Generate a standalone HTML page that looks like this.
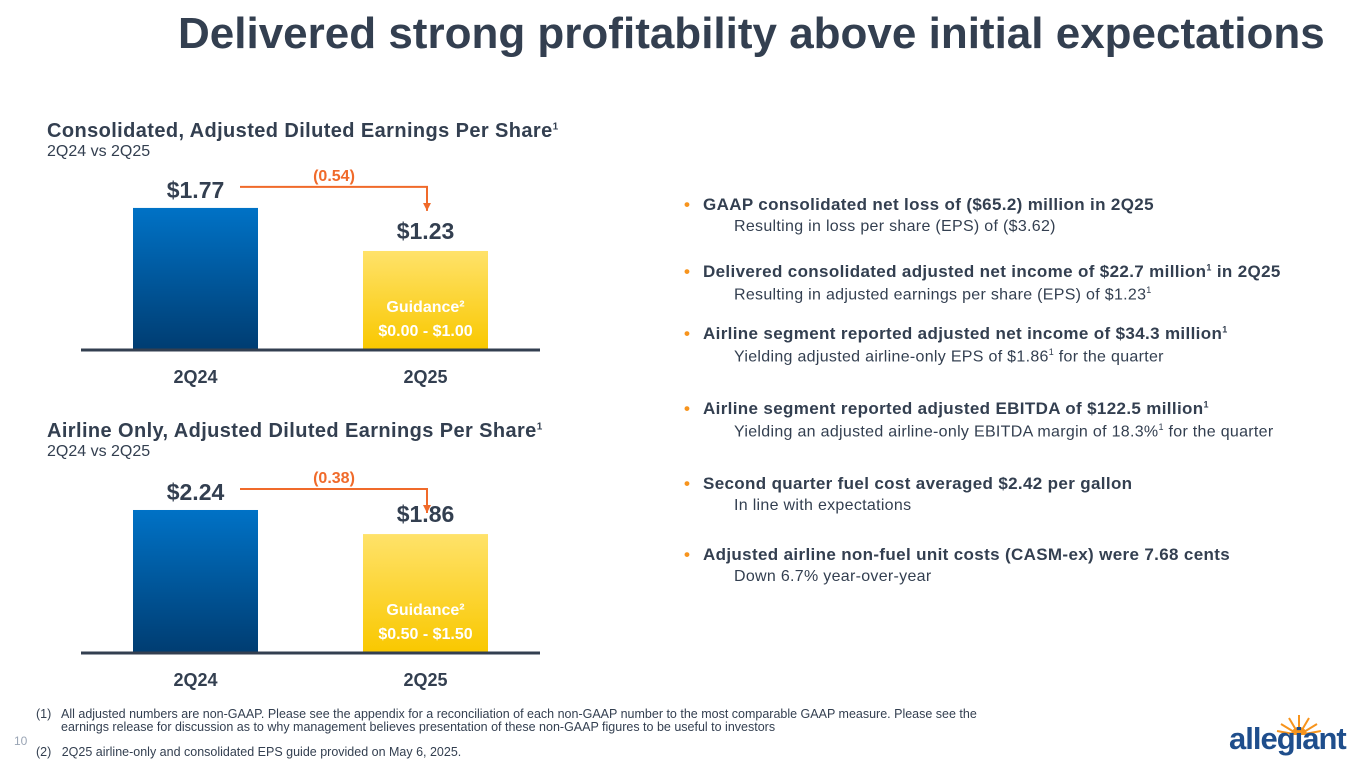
<!DOCTYPE html>
<html><head><meta charset="utf-8"><style>
body{margin:0;width:1365px;height:768px;background:#fff;font-family:"Liberation Sans",sans-serif;color:#333f50;position:relative;overflow:hidden}
.abs{position:absolute}
h1{position:absolute;left:178px;top:9px;margin:0;font-size:44px;font-weight:bold;color:#333f50;white-space:nowrap}
.ct{font-size:20px;font-weight:bold;letter-spacing:0.4px}
.cs{font-size:16px}
.b{font-weight:bold;font-size:17px;letter-spacing:0.35px;white-space:nowrap}
.s{font-size:16px;letter-spacing:0.3px;white-space:nowrap;padding-left:50px;margin-top:3px}
.dot{color:#f7941d;margin-right:10px;display:inline-block;width:9px}
.item{position:absolute;left:684px}
</style></head><body>
<h1>Delivered strong profitability above initial expectations</h1>
<div class="abs" style="left:47px;top:120px"><div class="ct">Consolidated, Adjusted Diluted Earnings Per Share<sup style="font-size:10px">1</sup></div><div class="cs">2Q24 vs 2Q25</div></div>
<div class="abs" style="left:47px;top:420px"><div class="ct">Airline Only, Adjusted Diluted Earnings Per Share<sup style="font-size:10px">1</sup></div><div class="cs">2Q24 vs 2Q25</div></div>
<svg class="abs" style="left:0;top:0" width="600" height="700">
<defs>
<linearGradient id="gb" x1="0" y1="0" x2="0" y2="1"><stop offset="0" stop-color="#0072c6"/><stop offset="1" stop-color="#003d72"/></linearGradient>
<linearGradient id="gy" x1="0" y1="0" x2="0" y2="1"><stop offset="0" stop-color="#ffe26a"/><stop offset="1" stop-color="#f9c800"/></linearGradient>
<marker id="ah" markerUnits="userSpaceOnUse" markerWidth="8" markerHeight="8" refX="8" refY="4" orient="auto"><path d="M0,0 L8,4 L0,8z" fill="#f06a2a"/></marker>
</defs>
<g id="charts"></g>
</svg>
<script>
const categories=["2Q24","2Q25"];
const consolidatedValues=[1.77,1.23];
const airlineValues=[2.24,1.86];
const consolidatedGuidance="$0.00 - $1.00";
const airlineGuidance="$0.50 - $1.50";
const NS="http://www.w3.org/2000/svg";
const g=document.getElementById('charts');
function mk(t,a,txt){const e=document.createElementNS(NS,t);for(const k in a)e.setAttribute(k,a[k]);if(txt!==undefined)e.textContent=txt;g.appendChild(e);return e;}
function chart(base,scale,vals,guide,id){
  const xs=[133,363],w=125;
  const y=v=>base-v*scale;
  vals.forEach((v,i)=>{
    const r=mk('rect',{x:xs[i],y:y(v),width:w,height:base-y(v),fill:i==0?'url(#gb)':'url(#gy)'});
    
    
    const t=mk('text',{x:xs[i]+w/2,y:y(v)-(i==0?10:12),'text-anchor':'middle','font-size':23,'font-weight':'bold',fill:'#333f50'},'$'+v.toFixed(2));
    
    
    const c=mk('text',{x:xs[i]+w/2,y:base+34,'text-anchor':'middle','font-size':18,'font-weight':'bold',fill:'#333f50'},categories[i]);
    
    
  });
  const ax=mk('line',{x1:81,x2:540,y1:base+1,y2:base+1,stroke:'#333f50','stroke-width':3});
  
  
  const gx=xs[1]+w/2;
  const g1=mk('text',{x:gx,y:base-37,'text-anchor':'middle','font-size':16,'font-weight':'bold',fill:'#fff'},'Guidance²');
  
  
  const g2=mk('text',{x:gx,y:base-13,'text-anchor':'middle','font-size':16,'font-weight':'bold',fill:'#fff'},guide);
  
  
  const ly=y(vals[0])-21;
  const ar=mk('path',{d:`M240,${ly} H427 V${ly+24}`,fill:'none',stroke:'#f06a2a','stroke-width':2,'marker-end':'url(#ah)'});
  
  
  const d=(vals[1]-vals[0]);
  const dt=mk('text',{x:334,y:ly-6,'text-anchor':'middle','font-size':16,'font-weight':'bold',fill:'#f06a2a'},'('+Math.abs(d).toFixed(2)+')');
  
  
}
chart(349,79.7,consolidatedValues,consolidatedGuidance,'consolidated');
chart(652,63.4,airlineValues,airlineGuidance,'airline');
</script>
<div class="item" style="top:195px"><div class="b"><span class="dot">•</span>GAAP consolidated net loss of ($65.2) million in 2Q25</div><div class="s">Resulting in loss per share (EPS) of ($3.62)</div></div>
<div class="item" style="top:262px"><div class="b"><span class="dot">•</span>Delivered consolidated adjusted net income of $22.7 million<sup style="font-size:9px">1</sup> in 2Q25</div><div class="s">Resulting in adjusted earnings per share (EPS) of $1.23<sup style="font-size:9px">1</sup></div></div>
<div class="item" style="top:324px"><div class="b"><span class="dot">•</span>Airline segment reported adjusted net income of $34.3 million<sup style="font-size:9px">1</sup></div><div class="s">Yielding adjusted airline-only EPS of $1.86<sup style="font-size:9px">1</sup> for the quarter</div></div>
<div class="item" style="top:399px"><div class="b"><span class="dot">•</span>Airline segment reported adjusted EBITDA of $122.5 million<sup style="font-size:9px">1</sup></div><div class="s">Yielding an adjusted airline-only EBITDA margin of 18.3%<sup style="font-size:9px">1</sup> for the quarter</div></div>
<div class="item" style="top:474px"><div class="b"><span class="dot">•</span>Second quarter fuel cost averaged $2.42 per gallon</div><div class="s">In line with expectations</div></div>
<div class="item" style="top:545px"><div class="b"><span class="dot">•</span>Adjusted airline non-fuel unit costs (CASM-ex) were 7.68 cents</div><div class="s">Down 6.7% year-over-year</div></div>
<div class="abs" style="left:36px;top:708px;font-size:12.5px;line-height:13px;width:1085px"><span style="position:absolute;left:0">(1)</span><div style="padding-left:25px">All adjusted numbers are non-GAAP. Please see the appendix for a reconciliation of each non-GAAP number to the most comparable GAAP measure. Please see the<br>earnings release for discussion as to why management believes presentation of these non-GAAP figures to be useful to investors</div></div>
<div class="abs" style="left:36px;top:745px;font-size:12.5px">(2)&nbsp;&nbsp;&nbsp;2Q25 airline-only and consolidated EPS guide provided on May 6, 2025.</div>
<div class="abs" style="left:14px;top:734px;font-size:12px;color:#9aa5b5">10</div>
<div class="abs" style="left:1229px;top:713px">
<svg width="100" height="22" style="position:absolute;left:20px;top:0"><g stroke="#f7941d" stroke-width="2">
<line x1="50" y1="22" x2="50" y2="2"/><line x1="50" y1="22" x2="40" y2="5"/><line x1="50" y1="22" x2="60" y2="5"/><line x1="50" y1="22" x2="32" y2="11"/><line x1="50" y1="22" x2="68" y2="11"/><line x1="50" y1="22" x2="28" y2="18"/><line x1="50" y1="22" x2="72" y2="18"/></g><circle cx="50" cy="22" r="8" fill="#f7941d"/></svg>
<div style="position:absolute;top:8px;left:0;font-size:31px;font-weight:bold;color:#1f4e8c;letter-spacing:-1px">allegiant</div></div>
</body></html>
